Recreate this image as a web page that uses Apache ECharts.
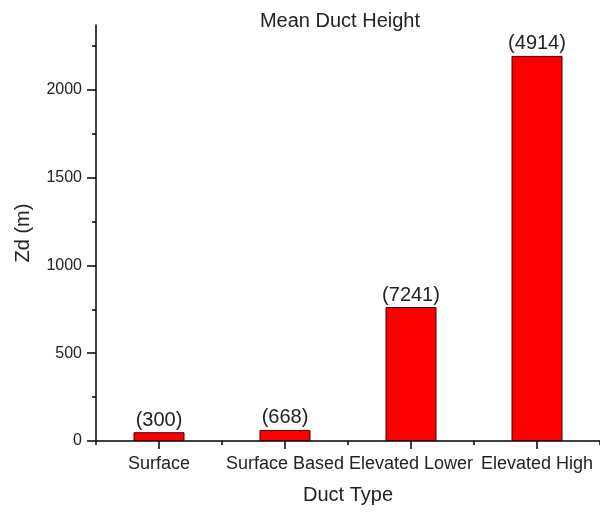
<!DOCTYPE html>
<html>
<head>
<meta charset="utf-8">
<script src="https://cdn.jsdelivr.net/npm/echarts@6/dist/echarts.min.js"></script>
<style>
html, body { margin: 0; padding: 0; background: #fff; }
#chart { width: 600px; height: 512px; }
</style>
</head>
<body>
<div id="chart"></div>
<script>
// data
var ductTypes = ['Surface', 'Surface Based', 'Elevated Lower', 'Elevated High'];
var meanHeight = [50, 63, 763, 2194];
var sampleCounts = ['(300)', '(668)', '(7241)', '(4914)'];
var yMajorTicks = [0, 500, 1000, 1500, 2000];
var yMinorTicks = [250, 750, 1250, 1750, 2250];

var font = 'Liberation Sans, Arial, sans-serif';
var textColor = '#222';

var chart = echarts.init(document.getElementById('chart'));

var option = {
    animation: false,
    title: {
        text: 'Mean Duct Height',
        left: 335,
        top: 6,
        textAlign: 'center',
        textStyle: { fontFamily: font, fontSize: 20, fontWeight: 'normal', color: textColor }
    },
    grid: { left: 96, right: -2, top: 25, bottom: 71 },
    xAxis: [
        {
            type: 'category',
            data: ductTypes,
            name: 'Duct Type',
            nameLocation: 'middle',
            nameGap: 44,
            nameTextStyle: { fontFamily: font, fontSize: 20, color: textColor },
            axisLine: { show: true, lineStyle: { color: '#000', width: 1.5 } },
            axisTick: { show: true, alignWithLabel: true, length: 8, lineStyle: { color: '#000', width: 1.5 } },
            axisLabel: { margin: 14, fontFamily: font, fontSize: 18, color: textColor, interval: 0 },
            splitLine: { show: false }
        },
        {
            // boundary ticks between categories
            type: 'category',
            data: ductTypes,
            position: 'bottom',
            offset: 0,
            axisLine: { show: false },
            axisTick: { show: true, length: 4, lineStyle: { color: '#000', width: 1.5 } },
            axisLabel: { show: false },
            splitLine: { show: false }
        }
    ],
    yAxis: [
        {
            type: 'value',
            min: 0,
            max: 2370,
            name: 'Zd (m)',
            nameLocation: 'middle',
            nameGap: 63,
            nameTextStyle: { fontFamily: font, fontSize: 20, color: textColor },
            axisLine: { show: true, lineStyle: { color: '#000', width: 1.5 } },
            axisTick: { show: true, length: 9, customValues: yMajorTicks, lineStyle: { color: '#000', width: 1.5 } },
            axisLabel: {
                margin: 14,
                customValues: yMajorTicks,
                formatter: function (v) { return String(v); },
                fontFamily: font,
                fontSize: 16,
                color: textColor
            },
            splitLine: { show: false }
        },
        {
            // short minor ticks
            type: 'value',
            min: 0,
            max: 2370,
            position: 'left',
            offset: 0,
            axisLine: { show: false },
            axisTick: { show: true, length: 4, customValues: yMinorTicks, lineStyle: { color: '#000', width: 1.5 } },
            axisLabel: { show: false },
            splitLine: { show: false }
        }
    ],
    series: [
        {
            type: 'bar',
            data: meanHeight,
            barWidth: 51,
            itemStyle: { color: '#ff0000', borderColor: '#3a0000', borderWidth: 1 },
            label: {
                show: true,
                position: 'top',
                distance: 2,
                formatter: function (p) { return sampleCounts[p.dataIndex]; },
                fontFamily: font,
                fontSize: 20,
                color: textColor
            }
        }
    ]
};

chart.setOption(option);
</script>
</body>
</html>
